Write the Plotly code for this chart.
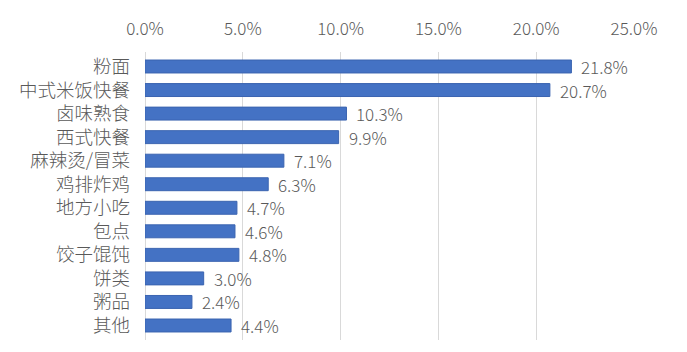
import plotly.graph_objects as go

categories = ["粉面", "中式米饭快餐", "卤味熟食", "西式快餐", "麻辣烫/冒菜", "鸡排炸鸡",
              "地方小吃", "包点", "饺子馄饨", "饼类", "粥品", "其他"]
shares = [0.218, 0.207, 0.103, 0.099, 0.071, 0.063, 0.047, 0.046, 0.048, 0.030, 0.024, 0.044]
tick_vals = [0, 0.05, 0.10, 0.15, 0.20, 0.25]
tick_text = ["0.0%", "5.0%", "10.0%", "15.0%", "20.0%", "25.0%"]

font_family = "Noto Sans CJK SC Light, Noto Sans CJK SC, Noto Sans, sans-serif"
grey = "#595959"

fig = go.Figure()
fig.add_trace(go.Bar(
    x=shares, y=categories, orientation="h",
    width=0.55,
    marker=dict(color="#4472C4", line=dict(color="#3B64B0", width=1)),
    hoverinfo="skip",
))

for c, v in zip(categories, shares):
    fig.add_annotation(x=v, y=c, xref="x", yref="y", text=f"{v*100:.1f}%",
                       showarrow=False, xanchor="left", xshift=8,
                       font=dict(size=17, color=grey, family=font_family, weight=300))

fig.update_layout(
    width=687, height=352,
    margin=dict(l=145, r=53, t=52, b=12),
    plot_bgcolor="white", paper_bgcolor="white",
    showlegend=False,
    bargap=0.45,
    font=dict(family=font_family, color=grey, weight=300),
)
fig.update_xaxes(
    side="top", range=[0, 0.25], tickvals=tick_vals, ticktext=tick_text,
    showgrid=True, gridcolor="#D9D9D9", gridwidth=1,
    zeroline=True, zerolinecolor="#D9D9D9", zerolinewidth=1,
    showline=False, ticks="", tickfont=dict(size=17, color=grey, weight=300),
    ticklabelstandoff=13,
)
fig.update_yaxes(
    autorange="reversed", showgrid=False, showline=False, ticks="",
    tickfont=dict(size=18.5, color=grey, weight=300), ticklabelstandoff=14,
)

fig.write_html("out.html")
